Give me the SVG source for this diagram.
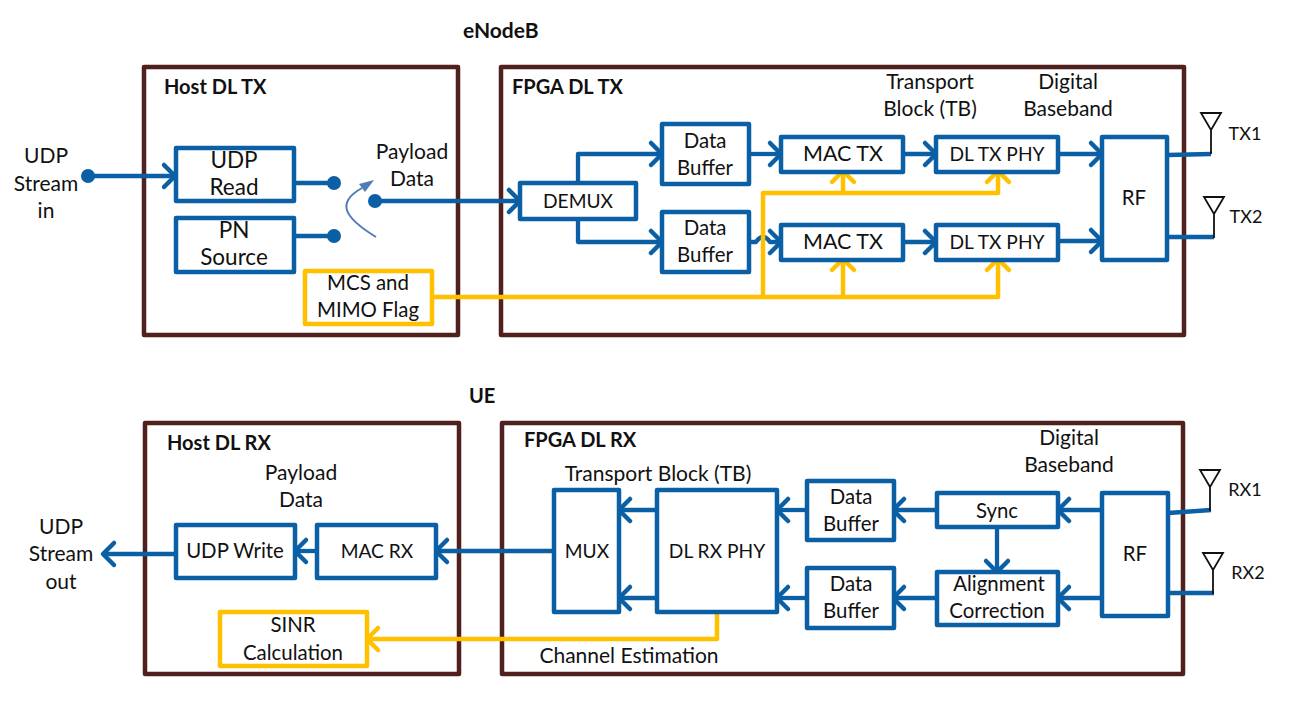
<svg xmlns="http://www.w3.org/2000/svg" width="1299" height="717" viewBox="0 0 1299 717">
<style>
text{font-family:"Lato","Open Sans","Liberation Sans",sans-serif;font-size:21px;fill:#111;text-anchor:middle}
.t{font-weight:700;text-anchor:start;font-size:20px}
.h{font-size:21px}
.s{font-size:19.2px}
.n{font-size:20.4px}
.l{font-size:22.5px}
.m{font-size:21.5px}
.x{font-size:18px}
.f{fill:#fff;stroke:#4f201d;stroke-width:4.5;stroke-linejoin:round}
.b{fill:#fff;stroke:#0b5fa5;stroke-width:4.5;stroke-linejoin:round}
.y{fill:#fff;stroke:#ffc000;stroke-width:4.5;stroke-linejoin:round}
.lb{fill:none;stroke:#0b5fa5;stroke-width:4.3;stroke-linejoin:round}
.ly{fill:none;stroke:#ffc000;stroke-width:4.5;stroke-linejoin:round}
.a{fill:none;stroke:#111;stroke-width:1.8}
.d{fill:#0b5fa5}
</style>
<defs>
<marker id="ab" markerUnits="userSpaceOnUse" markerWidth="20" markerHeight="28" refX="14" refY="14" orient="auto" overflow="visible"><path d="M3 3 L14 14 L3 25" fill="none" stroke="#0b5fa5" stroke-width="4.5" stroke-linecap="round" stroke-linejoin="round"/></marker>
<marker id="ay" markerUnits="userSpaceOnUse" markerWidth="20" markerHeight="28" refX="14" refY="14" orient="auto" overflow="visible"><path d="M3 3 L14 14 L3 25" fill="none" stroke="#ffc000" stroke-width="4.5" stroke-linecap="round" stroke-linejoin="round"/></marker>
<g id="ant"><path class="a" d="M-10 0 H10 L0 17 Z M0 17 V41"/></g>
</defs>

<g id="frames">
<rect id="host-dl-tx" class="f" x="144" y="67" width="314" height="268"/>
<rect id="fpga-dl-tx" class="f" x="501" y="67" width="683" height="268"/>
<rect id="host-dl-rx" class="f" x="145" y="423" width="314" height="251"/>
<rect id="fpga-dl-rx" class="f" x="502" y="423" width="681" height="251"/>
</g>

<g id="connectors">
<path class="lb" d="M88 176 H175" marker-end="url(#ab)"/>
<path class="lb" d="M294 183 H334"/>
<path class="lb" d="M294 236 H334"/>
<path class="lb" d="M375 201 H520" marker-end="url(#ab)"/>
<path d="M376 237 C345 218 335 203 362 188" fill="none" stroke="#4f7cb5" stroke-width="2"/>
<path d="M374 180 L359 184 L365 192 Z" fill="#4f7cb5"/>
<path class="lb" d="M578 183 V154 H662" marker-end="url(#ab)"/>
<path class="lb" d="M578 219 V242 H662" marker-end="url(#ab)"/>
<path class="lb" d="M749 154 H781" marker-end="url(#ab)"/>
<path class="lb" d="M749 242 H756 Q763 232 770 242 H781" marker-end="url(#ab)"/>
<path class="lb" d="M903 154 H936" marker-end="url(#ab)"/>
<path class="lb" d="M903 242 H936" marker-end="url(#ab)"/>
<path class="lb" d="M1058 154 H1102" marker-end="url(#ab)"/>
<path class="lb" d="M1058 241 H1102" marker-end="url(#ab)"/>
<path class="lb" d="M1168 155 L1211 154"/>
<path class="lb" d="M1168 237 H1214"/>
<path class="ly" d="M432 297 H998 V259" marker-end="url(#ay)"/>
<path class="ly" d="M843 297 V259" marker-end="url(#ay)"/>
<path class="ly" d="M763 297 V193 H998 V171" marker-end="url(#ay)"/>
<path class="ly" d="M843 193 V171" marker-end="url(#ay)"/>
<path class="lb" d="M176 554 H103" marker-end="url(#ab)"/>
<path class="lb" d="M317 551 H295" marker-end="url(#ab)"/>
<path class="lb" d="M554 551 H436" marker-end="url(#ab)"/>
<path class="lb" d="M657 510 H619" marker-end="url(#ab)"/>
<path class="lb" d="M657 598 H619" marker-end="url(#ab)"/>
<path class="lb" d="M807 510 H777" marker-end="url(#ab)"/>
<path class="lb" d="M807 598 H777" marker-end="url(#ab)"/>
<path class="lb" d="M937 510 H893" marker-end="url(#ab)"/>
<path class="lb" d="M937 598 H893" marker-end="url(#ab)"/>
<path class="lb" d="M1102 510 H1058" marker-end="url(#ab)"/>
<path class="lb" d="M1102 598 H1058" marker-end="url(#ab)"/>
<path class="lb" d="M997 527 V572" marker-end="url(#ab)"/>
<path class="lb" d="M1168 513 L1211 510"/>
<path class="lb" d="M1168 593 H1214"/>
<path class="ly" d="M717 612 V639 H367" marker-end="url(#ay)"/>
</g>

<g id="dots">
<circle class="d" cx="88" cy="176" r="7"/>
<circle class="d" cx="334" cy="183" r="7"/>
<circle class="d" cx="334" cy="236" r="7"/>
<circle class="d" cx="375" cy="201" r="7"/>
</g>

<g id="antennas">
<use href="#ant" x="1211" y="113"/>
<use href="#ant" x="1214" y="197"/>
<use href="#ant" x="1210" y="470"/>
<use href="#ant" x="1213" y="553"/>
</g>

<g id="labels">
<text class="t h" x="463" y="38">eNodeB</text>
<text class="t" x="469" y="403">UE</text>
<text class="t" x="164" y="94">Host DL TX</text>
<text class="t" x="512" y="94">FPGA DL TX</text>
<text class="t" x="167" y="450">Host DL RX</text>
<text class="t" x="524" y="447">FPGA DL RX</text>
<text x="46" y="163">UDP</text><text x="46" y="191">Stream</text><text x="46" y="218">in</text>
<text x="412" y="159">Payload</text><text x="412" y="186">Data</text>
<text x="930" y="89">Transport</text><text x="930" y="116">Block (TB)</text>
<text x="1068" y="89">Digital</text><text x="1068" y="116">Baseband</text>
<text class="x" x="1245" y="140">TX1</text><text class="x" x="1246" y="223">TX2</text>
<text class="x" x="1245" y="496">RX1</text><text class="x" x="1248" y="579">RX2</text>
<text x="301" y="480">Payload</text><text x="301" y="507">Data</text>
<text x="61" y="534">UDP</text><text x="61" y="561">Stream</text><text x="61" y="589">out</text>
<text x="658" y="481">Transport Block (TB)</text>
<text x="1069" y="445">Digital</text><text x="1069" y="472">Baseband</text>
<text x="629" y="663">Channel Estimation</text>
</g>

<g id="udp-read"><rect class="b" x="176" y="148" width="118" height="53"/><text class="l" x="234" y="168">UDP</text><text class="l" x="234" y="195">Read</text></g>
<g id="pn-source"><rect class="b" x="176" y="218" width="118" height="54"/><text class="l" x="234" y="238">PN</text><text class="l" x="234" y="265">Source</text></g>
<g id="mcs-flag"><rect class="y" x="305" y="271" width="127" height="53"/><text class="n" x="368" y="290">MCS and</text><text class="n" x="368" y="317">MIMO Flag</text></g>
<g id="demux"><rect class="b" x="520" y="183" width="116" height="36"/><text class="s" x="578" y="208">DEMUX</text></g>
<g id="buffer-tx1"><rect class="b" x="662" y="124" width="87" height="60"/><text class="n" x="705" y="148">Data</text><text class="n" x="705" y="175">Buffer</text></g>
<g id="buffer-tx2"><rect class="b" x="662" y="212" width="87" height="60"/><text class="n" x="705" y="235">Data</text><text class="n" x="705" y="262">Buffer</text></g>
<g id="mac-tx1"><rect class="b" x="781" y="137" width="122" height="35"/><text class="m" x="843" y="161">MAC TX</text></g>
<g id="mac-tx2"><rect class="b" x="781" y="225" width="122" height="35"/><text class="m" x="843" y="249">MAC TX</text></g>
<g id="phy-tx1"><rect class="b" x="936" y="137" width="122" height="35"/><text class="s" x="997" y="161">DL TX PHY</text></g>
<g id="phy-tx2"><rect class="b" x="936" y="225" width="122" height="35"/><text class="s" x="997" y="249">DL TX PHY</text></g>
<g id="rf-tx"><rect class="b" x="1102" y="137" width="65" height="123"/><text class="n" x="1134" y="205">RF</text></g>

<g id="udp-write"><rect class="b" x="176" y="525" width="119" height="53"/><text class="n" x="235" y="558">UDP Write</text></g>
<g id="mac-rx"><rect class="b" x="317" y="525" width="119" height="53"/><text class="s" x="377" y="558">MAC RX</text></g>
<g id="sinr"><rect class="y" x="220" y="612" width="147" height="54"/><text class="n" x="293" y="632">SINR</text><text class="n" x="293" y="660">Calculation</text></g>
<g id="mux"><rect class="b" x="554" y="490" width="65" height="122"/><text class="s" x="587" y="558">MUX</text></g>
<g id="phy-rx"><rect class="b" x="657" y="490" width="120" height="122"/><text class="s" x="717" y="558">DL RX PHY</text></g>
<g id="buffer-rx1"><rect class="b" x="807" y="481" width="87" height="59"/><text class="n" x="851" y="504">Data</text><text class="n" x="851" y="531">Buffer</text></g>
<g id="buffer-rx2"><rect class="b" x="807" y="568" width="87" height="60"/><text class="n" x="851" y="591">Data</text><text class="n" x="851" y="618">Buffer</text></g>
<g id="sync"><rect class="b" x="937" y="493" width="121" height="34"/><text class="n" x="997" y="518">Sync</text></g>
<g id="alignment"><rect class="b" x="937" y="572" width="121" height="53"/><text class="n" x="999" y="591">Alignment</text><text class="n" x="997" y="618">Correction</text></g>
<g id="rf-rx"><rect class="b" x="1102" y="493" width="66" height="123"/><text class="n" x="1135" y="561">RF</text></g>
</svg>
